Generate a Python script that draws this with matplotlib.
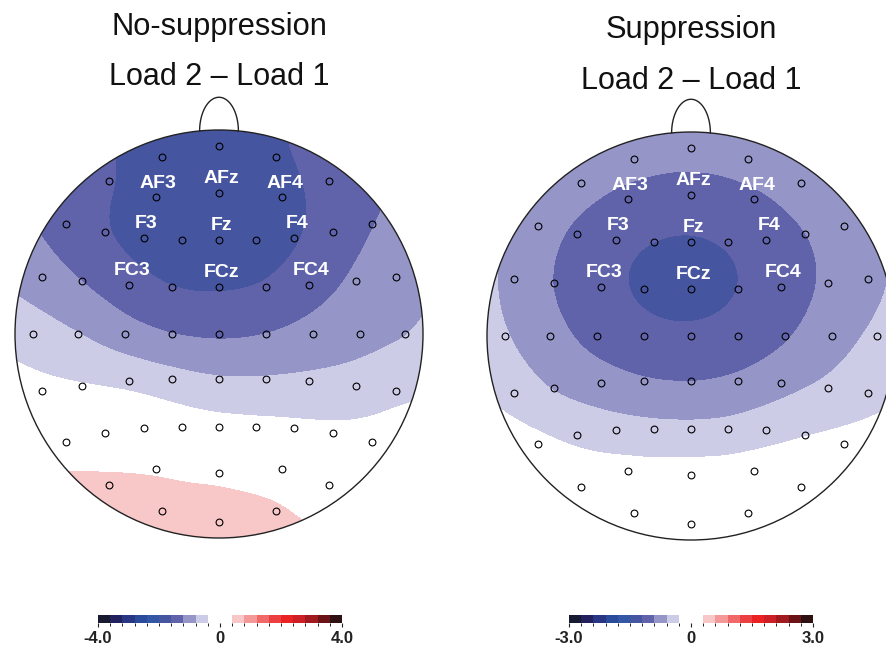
import numpy as np
import matplotlib
matplotlib.use("Agg")
import matplotlib.pyplot as plt
from matplotlib.colors import ListedColormap, BoundaryNorm
from matplotlib.patches import Circle
import matplotlib.cm as cm

plt.rcParams['font.family'] = ['Liberation Sans', 'DejaVu Sans']

# electrode layout (head radius = 1, nose up)
names = ['Fpz', 'Fp1', 'Fp2',
         'AF7', 'AF3', 'AFz', 'AF4', 'AF8',
         'F7', 'F5', 'F3', 'F1', 'Fz', 'F2', 'F4', 'F6', 'F8',
         'FT7', 'FC5', 'FC3', 'FC1', 'FCz', 'FC2', 'FC4', 'FC6', 'FT8',
         'T7', 'C5', 'C3', 'C1', 'Cz', 'C2', 'C4', 'C6', 'T8',
         'TP7', 'CP5', 'CP3', 'CP1', 'CPz', 'CP2', 'CP4', 'CP6', 'TP8',
         'P7', 'P5', 'P3', 'P1', 'Pz', 'P2', 'P4', 'P6', 'P8',
         'PO7', 'PO3', 'POz', 'PO4', 'PO8',
         'O1', 'Oz', 'O2']
ex = [0, -0.28, 0.28,
      -0.54, -0.31, 0, 0.31, 0.54,
      -0.75, -0.56, -0.37, -0.18, 0, 0.18, 0.37, 0.56, 0.75,
      -0.87, -0.67, -0.44, -0.23, 0, 0.23, 0.44, 0.67, 0.87,
      -0.91, -0.69, -0.46, -0.23, 0, 0.23, 0.46, 0.69, 0.91,
      -0.87, -0.67, -0.44, -0.23, 0, 0.23, 0.44, 0.67, 0.87,
      -0.75, -0.56, -0.37, -0.18, 0, 0.18, 0.37, 0.56, 0.75,
      -0.54, -0.31, 0, 0.31, 0.54,
      -0.28, 0, 0.28]
ey = [0.92, 0.87, 0.87,
      0.75, 0.67, 0.69, 0.67, 0.75,
      0.54, 0.50, 0.47, 0.46, 0.46, 0.46, 0.47, 0.50, 0.54,
      0.28, 0.26, 0.24, 0.23, 0.23, 0.23, 0.24, 0.26, 0.28,
      0, 0, 0, 0, 0, 0, 0, 0, 0,
      -0.28, -0.255, -0.23, -0.22, -0.22, -0.22, -0.23, -0.255, -0.28,
      -0.53, -0.485, -0.46, -0.455, -0.455, -0.455, -0.46, -0.485, -0.53,
      -0.74, -0.66, -0.68, -0.66, -0.74,
      -0.87, -0.92, -0.87]

# amplitude differences (microvolts), Load 2 - Load 1
no_supp = [-1.79, -1.78, -1.63,
           -1.52, -1.83, -1.89, -1.75, -1.45,
           -1.36, -1.6, -1.74, -1.83, -1.84, -1.78, -1.65, -1.42, -1.22,
           -1.02, -1.2, -1.42, -1.6, -1.62, -1.58, -1.35, -1.13, -0.92,
           -0.6, -0.77, -1.05, -1.22, -1.26, -1.2, -1.05, -0.95, -0.85,
           -0.3, -0.38, -0.48, -0.63, -0.76, -0.76, -0.72, -0.65, -0.45,
           0.16, 0.06, -0.05, -0.2, -0.27, -0.3, -0.32, -0.3, -0.25,
           0.5, 0.37, 0.35, 0.15, -0.05,
           0.6, 0.55, 0.5]
supp = [-0.76, -0.76, -0.75,
        -0.75, -1.0, -1.05, -0.97, -0.72,
        -0.74, -0.97, -1.12, -1.2, -1.22, -1.18, -1.07, -0.91, -0.72,
        -0.67, -0.92, -1.12, -1.23, -1.26, -1.2, -1.06, -0.85, -0.68,
        -0.58, -0.78, -1.0, -1.12, -1.15, -1.09, -0.94, -0.7, -0.54,
        -0.42, -0.65, -0.76, -0.88, -0.91, -0.85, -0.7, -0.55, -0.42,
        -0.2, -0.38, -0.48, -0.52, -0.53, -0.52, -0.42, -0.3, -0.2,
        -0.1, -0.18, -0.15, -0.15, -0.05,
        -0.05, -0.05, 0.0]

labelled = ['AF3', 'AFz', 'AF4', 'F3', 'Fz', 'F4', 'FC3', 'FCz', 'FC4']
conditions = ['No-suppression', 'Suppression']
contrast = 'Load 2 \u2013 Load 1'
limits = [4.0, 3.0]

blues = ['#181a30', '#22215e', '#283683', '#2a4a9c', '#3357a4',
         '#4655a0', '#6063aa', '#9595c8', '#cdcce6']
reds = ['#f8c8c8', '#f59898', '#f06868', '#ec4040', '#ea2222',
        '#cc1f26', '#a01a20', '#6a1216', '#2e1012']
cmap = ListedColormap(blues + ['white'] + reds)

W, H = 887, 648
R = 204.0
centers = [(219, 334), (691, 336)]
title_y = [(27, 77), (30, 81)]
cbar_x = [98, 569]


def tps(xs, ys, vs, gx, gy, lam=0.05):
    xs, ys, vs = map(np.asarray, (xs, ys, vs))
    n = len(xs)
    d2 = (xs[:, None] - xs[None, :]) ** 2 + (ys[:, None] - ys[None, :]) ** 2
    K = np.where(d2 > 0, 0.5 * d2 * np.log(d2 + 1e-12), 0.0) + lam * np.eye(n)
    P = np.column_stack([np.ones(n), xs, ys])
    A = np.zeros((n + 3, n + 3))
    A[:n, :n] = K
    A[:n, n:] = P
    A[n:, :n] = P.T
    b = np.concatenate([vs, np.zeros(3)])
    sol = np.linalg.solve(A, b)
    w, a = sol[:n], sol[n:]
    g2 = (gx.ravel()[:, None] - xs[None, :]) ** 2 + (gy.ravel()[:, None] - ys[None, :]) ** 2
    G = np.where(g2 > 0, 0.5 * g2 * np.log(g2 + 1e-12), 0.0)
    out = G @ w + a[0] + a[1] * gx.ravel() + a[2] * gy.ravel()
    return out.reshape(gx.shape)


fig = plt.figure(figsize=(W / 100, H / 100), dpi=100)

gx, gy = np.meshgrid(np.linspace(-1.03, 1.03, 260), np.linspace(-1.03, 1.03, 260))

for i, vals in enumerate([no_supp, supp]):
    cx, cy = centers[i]
    s = 1.25 * R
    ax = fig.add_axes([(cx - s) / W, (H - cy - s) / H, 2 * s / W, 2 * s / H])
    ax.set_xlim(-1.25, 1.25)
    ax.set_ylim(-1.25, 1.25)
    ax.set_aspect('equal')
    ax.axis('off')

    lim = limits[i]
    step = lim / 10
    levels = np.concatenate([np.arange(-10, 0) * step, np.arange(1, 11) * step])
    norm = BoundaryNorm(levels, cmap.N)

    z = tps(ex, ey, vals, gx, gy)
    cs = ax.contourf(gx, gy, z, levels=levels, cmap=cmap, norm=norm, extend='neither')
    clip = Circle((0, 0), 1.0, transform=ax.transData)
    cs.set_clip_path(clip)

    # head outline and nose
    ax.add_patch(Circle((0, 0), 1.0, fill=False, ec='#222222', lw=1.0))
    t = np.linspace(0, np.pi, 60)
    ax.plot(0.095 * np.cos(t), np.sqrt(1 - 0.095 ** 2) + 0.165 * np.sin(t),
            color='#222222', lw=1.0)

    ax.plot(ex, ey, 'o', ms=4.9, mfc='none', mec='black', mew=0.8)
    for nm, x0, y0 in zip(names, ex, ey):
        if nm in labelled:
            ax.text(x0 + 0.012, y0 + 0.07, nm, color='white', fontsize=14,
                    fontweight='bold', ha='center', va='center')

    fig.text(cx / W, 1 - title_y[i][0] / H, conditions[i], fontsize=22.2,
             ha='center', va='center', color='#111111')
    fig.text(cx / W, 1 - title_y[i][1] / H, contrast, fontsize=22,
             ha='center', va='center', color='#111111')

    cax = fig.add_axes([cbar_x[i] / W, (H - 623) / H, 244 / W, 8 / H])
    sm = cm.ScalarMappable(norm=norm, cmap=cmap)
    cb = fig.colorbar(sm, cax=cax, orientation='horizontal', spacing='proportional',
                      ticks=[-lim, 0, lim])
    cb.outline.set_visible(False)
    cb.ax.set_xticklabels(['%.1f' % -lim, '0', '%.1f' % lim])
    cb.ax.tick_params(length=3, width=0.8, pad=2.5, labelsize=12, colors='#222222')
    for lb in cb.ax.get_xticklabels():
        lb.set_fontweight('bold')

fig.savefig('out.png', dpi=100)
